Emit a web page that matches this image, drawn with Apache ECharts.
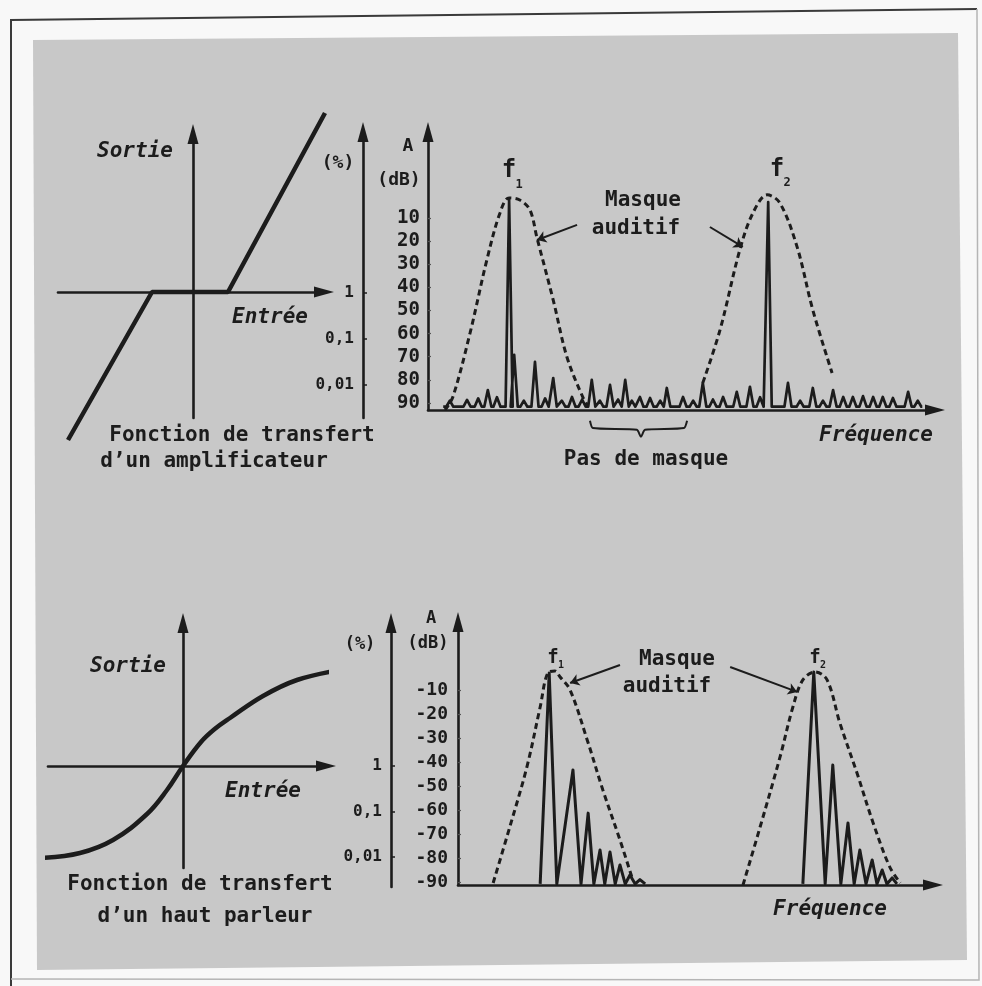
<!DOCTYPE html>
<html>
<head>
<meta charset="utf-8">
<script src="https://cdn.jsdelivr.net/npm/echarts@6/dist/echarts.min.js"></script>
<style>
  html, body { margin: 0; padding: 0; background: #f8f8f8; }
  #chart { width: 982px; height: 986px; }
</style>
</head>
<body>
<div id="chart"></div>
<script>
// ---- Amplifier transfer function (dead zone around zero) ----
const ampInput  = [-3.125, -1.025, 0.875, 3.3];
const ampOutput = [-3.7, 0, 0, 4.475];

// ---- Loudspeaker transfer function (soft saturation) ----
const spkInput  = [-3.525, -2.575, -1.75, -0.9, -0.4, 0, 0.45, 0.8, 1.175, 2.0, 2.85, 3.925];
const spkOutput = [-2.3, -2.175, -1.85, -1.2, -0.6, 0, 0.6, 0.93, 1.2, 1.75, 2.15, 2.4];

// ---- Distortion scale (%) ----
const distTicks = [1, 0.1, 0.01];

// ---- Attenuation scales (dB) ----
const dbTicksTop    = [10, 20, 30, 40, 50, 60, 70, 80, 90];
const dbTicksBottom = [-10, -20, -30, -40, -50, -60, -70, -80, -90];

// ---- Upper spectrum: spectral lines (frequency, attenuation dB) ----
const topLineFreq = [4.3, 7.7, 9.9, 11.8, 13.6, 16.0, 17.0, 18.9, 21.1, 23.1, 24.7, 26.4, 28.4, 30.4,
                     32.3, 33.9, 35.9, 37.5, 38.9, 40.2, 41.8, 43.8, 45.8, 47.1, 50.3, 52.3, 54.2,
                     56.2, 58.2, 60.9, 63.5, 65.5, 67.1, 71.0, 73.4, 75.9, 77.9, 79.9, 81.9, 83.8,
                     85.8, 87.8, 89.7, 91.7, 94.7, 96.6];
const topLineAtt  = [89, 88.7, 88, 84.4, 87.5, 2.2, 69.2, 89, 72.2, 88, 79.2, 89, 87.4, 88.5,
                     80.0, 89, 82.2, 88.5, 80.0, 89, 87.4, 87.8, 89, 83.5, 87.4, 89, 81.3,
                     88.5, 87.4, 85.2, 83.0, 87.5, 3.1, 81.3, 89, 83.5, 89, 84.4, 87.4, 87.4,
                     87.0, 87.4, 87.4, 87.8, 85.2, 89];
const topNoiseFloor = 91.6;

// ---- Upper spectrum: auditory masks ----
const topMask1Freq = [3.35, 4.9, 8.3, 11.6, 14.2, 16.0, 18.1, 20.1, 21.5, 24.7, 27.4, 30.6, 31.6];
const topMask1Att  = [93.0, 87.4, 59.7, 28.2, 7.8, 1.3, 2.2, 6.5, 18.6, 45.5, 70.1, 87.8, 91.3];
const topMask2Freq = [54.2, 57.6, 61.5, 64.1, 66.9, 69.4, 72.8, 75.9, 79.7];
const topMask2Att  = [81.3, 58.4, 23.8, 7.8, 0.0, 3.5, 22.5, 49.8, 77.0];

// ---- Lower spectrum: fundamental + harmonics traces (frequency, level dB) ----
const lowTrace1Freq  = [17.3, 19.2, 20.8, 24.2, 25.9, 27.4, 28.6, 29.9, 30.9, 32.0, 33.1, 34.1, 35.2, 36.2, 37.3, 38.3, 39.4];
const lowTrace1Level = [-90.8, -2.9, -90.8, -43.3, -90.8, -61.3, -90.8, -76.7, -90.8, -77.5, -90.8, -82.9, -90.8, -87.1, -90.8, -89.0, -90.8];
const lowTrace2Freq  = [72.6, 74.9, 77.3, 78.9, 80.6, 82.1, 83.4, 84.6, 85.9, 87.2, 88.2, 89.3, 90.3, 91.4, 92.4];
const lowTrace2Level = [-90.8, -2.5, -90.8, -41.3, -90.8, -65.4, -90.8, -76.7, -90.8, -80.8, -90.8, -85.0, -90.8, -88.3, -90.8];

// ---- Lower spectrum: auditory masks ----
const lowMask1Freq  = [7.4, 10.9, 14.5, 17.3, 18.9, 20.4, 21.5, 23.6, 27.2, 30.5, 34.1, 36.8];
const lowMask1Level = [-90.4, -67.1, -42.1, -17.1, -2.9, -2.1, -4.6, -10.0, -30.8, -51.7, -72.5, -89.2];
const lowMask2Freq  = [60.0, 63.6, 67.8, 70.5, 72.6, 75.2, 77.7, 80.4, 84.0, 87.4, 90.9, 93.1];
const lowMask2Level = [-91.25, -67.1, -37.9, -17.1, -5.8, -2.5, -5.8, -23.8, -44.6, -65.4, -83.75, -90.4];

// ---- "Pas de masque" bracket under the upper frequency axis ----
const bracketFreq = [31.95, 32.5, 41.2, 42.0, 42.8, 50.5, 51.1];
const bracketAtt  = [97.7, 100.8, 101.6, 104.6, 101.6, 100.8, 97.7];

const zip = (a, b) => a.map((v, i) => [v, b[i]]);

// each spectral line is drawn as a narrow peak standing on the noise floor
const SPIKE_HALF = 0.7;
function spikeTrace(freqs, levels, floor, start, end) {
  const pts = [[start, floor]];
  freqs.forEach((f, i) => {
    pts.push([f - SPIKE_HALF, floor], [f, levels[i]], [f + SPIKE_HALF, floor]);
  });
  pts.push([end, floor]);
  return pts;
}

const INK = '#1c1c1c';
const MONO = '"DejaVu Sans Mono", monospace';
const arrowLine = (extra) => Object.assign({
  symbol: ['none', 'triangle'],
  symbolSize: [11, 20],
  lineStyle: { color: INK, width: 2.6 }
}, extra || {});

const hiddenX = (grid) => ({ gridIndex: grid, type: 'value', show: false, min: 0, max: 1 });

const pctFormatter = (v) => (+v).toPrecision(1).replace('.', ',');

function pctAxis(grid, min, max) {
  return {
    gridIndex: grid, type: 'log', logBase: 10, min: min, max: max,
    axisLine: arrowLine(),
    axisTick: { show: true, inside: true, length: 4, customValues: distTicks, lineStyle: { color: INK, width: 1.5 } },
    axisLabel: { customValues: distTicks, formatter: pctFormatter, color: INK, fontFamily: MONO,
                 fontWeight: 'bold', fontSize: 16, margin: 9 },
    splitLine: { show: false }
  };
}

function dbAxis(grid, min, max, ticks, inverse, fmtSize, margin) {
  return {
    gridIndex: grid, type: 'value', min: min, max: max, inverse: inverse,
    axisLine: arrowLine({ onZero: false }),
    axisTick: { show: true, inside: true, length: 3, customValues: ticks, lineStyle: { color: '#555', width: 1.2 } },
    axisLabel: { customValues: ticks, color: INK, fontFamily: MONO, fontWeight: 'bold',
                 fontSize: fmtSize, margin: margin },
    splitLine: { show: false }
  };
}

function freqAxis(grid) {
  return {
    gridIndex: grid, type: 'value', min: 0, max: 100,
    axisLine: arrowLine({ onZero: false }),
    axisTick: { show: false }, axisLabel: { show: false }, splitLine: { show: false }
  };
}

function transferAxis(grid, min, max) {
  return {
    gridIndex: grid, type: 'value', min: min, max: max,
    axisLine: arrowLine({ onZero: true }),
    axisTick: { show: false }, axisLabel: { show: false }, splitLine: { show: false }
  };
}

const maskStyle = { color: INK, width: 3, type: [6, 4] };
const leader = (from, to) => [{ coord: from }, { coord: to }];
const leaderOpts = (pairs) => ({
  silent: true, symbol: ['none', 'arrow'], symbolSize: 9,
  lineStyle: { color: INK, width: 2, type: 'solid' },
  label: { show: false }, emphasis: { disabled: true },
  data: pairs
});

const txt = (text, x, y, size, italic, align) => ({
  type: 'text', x: x, y: y, z: 100,
  style: {
    text: text, fill: INK, align: align || 'center', verticalAlign: 'middle',
    font: (italic ? 'italic ' : '') + 'bold ' + size + 'px "DejaVu Sans Mono", monospace'
  }
});

const option = {
  animation: false,
  backgroundColor: '#f8f8f8',
  grid: [
    { left: 58,  top: 134, width: 266, height: 284, outerBoundsMode: 'none' },  // amplifier transfer
    { left: 363, top: 132, width: 20,  height: 286, outerBoundsMode: 'none' },  // % scale, upper
    { left: 428, top: 132, width: 507, height: 278, outerBoundsMode: 'none' },  // upper spectrum
    { left: 48,  top: 623, width: 278, height: 245, outerBoundsMode: 'none' },  // loudspeaker transfer
    { left: 391, top: 623, width: 20,  height: 264, outerBoundsMode: 'none' },  // % scale, lower
    { left: 458, top: 622, width: 475, height: 263, outerBoundsMode: 'none' }   // lower spectrum
  ],
  xAxis: [
    transferAxis(0, -3.375, 3.275),
    hiddenX(1),
    freqAxis(2),
    transferAxis(3, -3.375, 3.575),
    hiddenX(4),
    freqAxis(5)
  ],
  yAxis: [
    transferAxis(0, -3.15, 3.95),
    pctAxis(1, 0.00192, 3162),
    dbAxis(2, -27.19, 93.03, dbTicksTop, true, 19, 8),
    transferAxis(3, -2.55, 3.575),
    pctAxis(4, 0.00219, 1390),
    dbAxis(5, -91.25, 18.33, dbTicksBottom, false, 18, 10)
  ],
  series: [
    { type: 'line', xAxisIndex: 0, yAxisIndex: 0, data: zip(ampInput, ampOutput), symbol: 'none',
      clip: false, lineStyle: { color: INK, width: 4.5 } },
    { type: 'line', xAxisIndex: 3, yAxisIndex: 3, data: zip(spkInput, spkOutput), symbol: 'none',
      smooth: 0.4, clip: false, lineStyle: { color: INK, width: 4.5 } },

    { type: 'line', xAxisIndex: 2, yAxisIndex: 2, symbol: 'none', clip: false,
      data: spikeTrace(topLineFreq, topLineAtt, topNoiseFloor, 3, 97.5),
      lineStyle: { color: INK, width: 2.7, join: 'round' } },
    { type: 'line', xAxisIndex: 2, yAxisIndex: 2, symbol: 'none', clip: false, smooth: 0.35,
      data: zip(topMask1Freq, topMask1Att), lineStyle: maskStyle,
      markLine: leaderOpts([leader([29.4, 13.0], [21.5, 19.5])]) },
    { type: 'line', xAxisIndex: 2, yAxisIndex: 2, symbol: 'none', clip: false, smooth: 0.35,
      data: zip(topMask2Freq, topMask2Att), lineStyle: maskStyle,
      markLine: leaderOpts([leader([55.6, 13.9], [62.1, 22.5])]) },
    { type: 'line', xAxisIndex: 2, yAxisIndex: 2, symbol: 'none', clip: false, smooth: 0.2,
      data: zip(bracketFreq, bracketAtt), lineStyle: { color: INK, width: 2 } },

    { type: 'line', xAxisIndex: 5, yAxisIndex: 5, symbol: 'none', clip: false,
      data: zip(lowTrace1Freq, lowTrace1Level), lineStyle: { color: INK, width: 3, join: 'round' } },
    { type: 'line', xAxisIndex: 5, yAxisIndex: 5, symbol: 'none', clip: false,
      data: zip(lowTrace2Freq, lowTrace2Level), lineStyle: { color: INK, width: 3, join: 'round' } },
    { type: 'line', xAxisIndex: 5, yAxisIndex: 5, symbol: 'none', clip: false, smooth: 0.35,
      data: zip(lowMask1Freq, lowMask1Level), lineStyle: maskStyle,
      markLine: leaderOpts([leader([34.1, 0.4], [23.6, -7.1])]) },
    { type: 'line', xAxisIndex: 5, yAxisIndex: 5, symbol: 'none', clip: false, smooth: 0.35,
      data: zip(lowMask2Freq, lowMask2Level), lineStyle: maskStyle,
      markLine: leaderOpts([leader([57.3, -0.4], [71.4, -10.8])]) }
  ],
  graphic: {
    elements: [
      // page frame and grey plate
      { type: 'polygon', z: -100, shape: { points: [[33, 40], [958, 33], [967, 960], [37, 970]] },
        style: { fill: '#c8c8c8' } },
      { type: 'polyline', z: -90, shape: { points: [[11, 986], [11, 20], [977, 9]] },
        style: { stroke: '#3a3a3a', lineWidth: 2, fill: null } },
      { type: 'polyline', z: -90, shape: { points: [[977, 9], [979, 980], [11, 979]] },
        style: { stroke: '#b5b5b5', lineWidth: 1.5, fill: null } },

      // amplifier panel
      txt('Sortie', 135, 152, 21, true),
      txt('Entrée', 270, 318, 21, true),
      txt('Fonction de transfert', 242, 436, 21),
      txt('d’un amplificateur', 214, 462, 21),
      txt('(%)', 338, 163, 18),

      // upper spectrum
      txt('A', 408, 146, 18),
      txt('(dB)', 399, 180, 18),
      txt('f', 509, 171, 24),
      txt('1', 519, 185, 12),
      txt('f', 777, 170, 24),
      txt('2', 787, 183, 12),
      txt('Masque', 643, 201, 21),
      txt('auditif', 636, 229, 21),
      txt('Pas de masque', 646, 460, 21),
      txt('Fréquence', 876, 436, 21, true),

      // loudspeaker panel
      txt('Sortie', 128, 667, 21, true),
      txt('Entrée', 263, 792, 21, true),
      txt('Fonction de transfert', 200, 885, 21),
      txt('d’un haut parleur', 205, 917, 21),
      txt('(%)', 360, 645, 17),

      // lower spectrum
      txt('A', 431, 619, 17),
      txt('(dB)', 428, 644, 17),
      txt('f', 553, 658, 19),
      txt('1', 561, 665, 10),
      txt('f', 815, 658, 19),
      txt('2', 823, 665, 10),
      txt('Masque', 677, 660, 21),
      txt('auditif', 667, 687, 21),
      txt('Fréquence', 830, 910, 21, true)
    ]
  }
};

const chart = echarts.init(document.getElementById('chart'), null, { renderer: 'canvas' });
chart.setOption(option);
</script>
</body>
</html>
